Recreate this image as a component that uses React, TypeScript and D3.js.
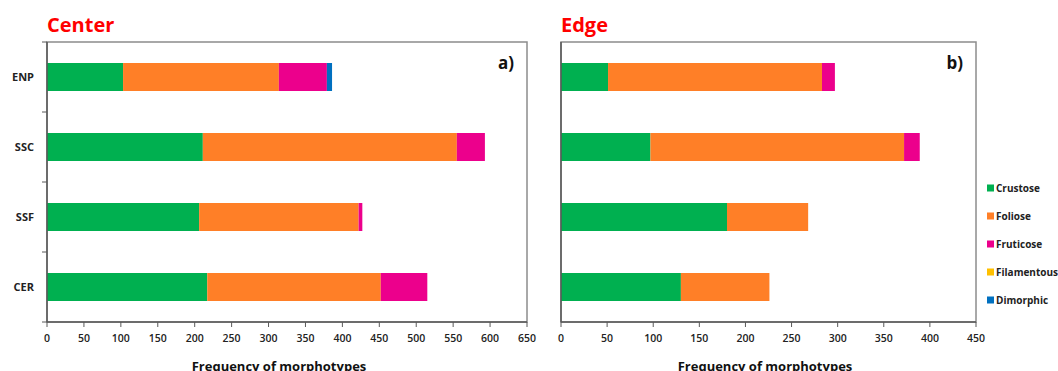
import React from 'react';
import * as d3 from 'd3';

const categories = ['ENP', 'SSC', 'SSF', 'CER'];
const seriesNames = ['Crustose', 'Foliose', 'Fruticose', 'Filamentous', 'Dimorphic'];
const seriesColors = ['#00B050', '#FF7F27', '#EC008C', '#FFC000', '#0070C0'];

// Center (a)
const centerCrustose = [103, 211, 206, 217];
const centerFoliose = [211, 344, 216, 235];
const centerFruticose = [65, 38, 5, 63];
const centerFilamentous = [0, 0, 0, 0];
const centerDimorphic = [7, 0, 0, 0];

// Edge (b)
const edgeCrustose = [51, 97, 180, 130];
const edgeFoliose = [232, 275, 88, 96];
const edgeFruticose = [14, 17, 0, 0];
const edgeFilamentous = [0, 0, 0, 0];
const edgeDimorphic = [0, 0, 0, 0];

const centerTicks = d3.range(0, 651, 50);
const edgeTicks = d3.range(0, 451, 50);

const FONT = '"Open Sans", "Noto Sans", sans-serif';

function buildRows(cols: number[][]) {
  return categories.map((c, i) => {
    const row: any = { cat: c };
    seriesNames.forEach((s, j) => (row[s] = cols[j][i]));
    return row;
  });
}

type PanelProps = {
  x0: number;
  x1: number;
  y0: number;
  y1: number;
  max: number;
  ticks: number[];
  rows: any[];
  title: string;
  tag: string;
  showCats: boolean;
  titleX: number;
};

const Panel = ({ x0, x1, y0, y1, max, ticks, rows, title, tag, showCats, titleX }: PanelProps) => {
  const x = d3.scaleLinear().domain([0, max]).range([x0, x1]);
  const y = d3.scaleBand().domain(categories).range([y0, y1]).paddingInner(0.6).paddingOuter(0.3);
  const stack = d3.stack().keys(seriesNames)(rows);
  const step = (y1 - y0) / categories.length;

  return (
    <g>
      <text x={x0} y={32} fill="#FF0000" fontSize={20} fontWeight={700} fontFamily={FONT}>
        {title}
      </text>
      {/* plot box */}
      <rect x={x0} y={y0} width={x1 - x0} height={y1 - y0} fill="#fff" stroke="#8c8c8c" strokeWidth={1.5} />
      {stack.map((layer, j) => (
        <g key={seriesNames[j]} fill={seriesColors[j]}>
          {layer.map((d, i) =>
            d[1] - d[0] > 0 ? (
              <rect
                key={i}
                x={x(d[0])}
                y={y(categories[i])!}
                width={x(d[1]) - x(d[0])}
                height={y.bandwidth()}
              />
            ) : null
          )}
        </g>
      ))}
      {/* axes */}
      <line x1={x0} x2={x0} y1={y0} y2={y1} stroke="#595959" strokeWidth={1.5} />
      <line x1={x0} x2={x1} y1={y1} y2={y1} stroke="#595959" strokeWidth={1.5} />
      {ticks.map((t) => (
        <g key={t}>
          <line x1={x(t)} x2={x(t)} y1={y1} y2={y1 + 5} stroke="#595959" strokeWidth={1} />
          <text
            x={x(t)}
            y={342}
            textAnchor="middle"
            fontSize={10.5}
            fontWeight={600}
            fill="#222"
            fontFamily={FONT}
          >
            {t}
          </text>
        </g>
      ))}
      {showCats &&
        d3.range(categories.length + 1).map((i) => (
          <line key={i} x1={x0 - 5} x2={x0} y1={y0 + i * step} y2={y0 + i * step} stroke="#595959" strokeWidth={1} />
        ))}
      {showCats &&
        categories.map((c) => (
          <text
            key={c}
            x={x0 - 13}
            y={y(c)! + y.bandwidth() / 2}
            dy="0.35em"
            textAnchor="end"
            fontSize={11}
            fontWeight={700}
            fill="#222"
            fontFamily={FONT}
          >
            {c}
          </text>
        ))}
      <text x={x1 - 13} y={69} textAnchor="end" fontSize={17} fontWeight={700} fill="#111" fontFamily={FONT}>
        {tag}
      </text>
      <text x={titleX} y={371} textAnchor="middle" fontSize={13} fontWeight={700} fill="#111" fontFamily={FONT}>
        Frequency of morphotypes
      </text>
    </g>
  );
};

const App = () => {
  const centerRows = buildRows([centerCrustose, centerFoliose, centerFruticose, centerFilamentous, centerDimorphic]);
  const edgeRows = buildRows([edgeCrustose, edgeFoliose, edgeFruticose, edgeFilamentous, edgeDimorphic]);

  return (
    <svg
      width={1058}
      height={371}
      style={{ position: 'absolute', left: 0, top: 0, background: '#fff' }}
    >
      <Panel x0={47} x1={527} y0={42} y1={322} max={650} ticks={centerTicks} rows={centerRows}
        title="Center" tag="a)" showCats={true} titleX={279} />
      <Panel x0={561} x1={976} y0={42} y1={322} max={450} ticks={edgeTicks} rows={edgeRows}
        title="Edge" tag="b)" showCats={false} titleX={765} />
      {/* legend */}
      {seriesNames.map((s, i) => (
        <g key={s} transform={`translate(987, ${188 + i * 28})`}>
          <rect x={0} y={-3.5} width={7} height={7} fill={seriesColors[i]} />
          <text x={9} y={0} dy="0.35em" fontSize={10} fontWeight={700} fill="#222" fontFamily={FONT}>
            {s}
          </text>
        </g>
      ))}
    </svg>
  );
};

export default App;
